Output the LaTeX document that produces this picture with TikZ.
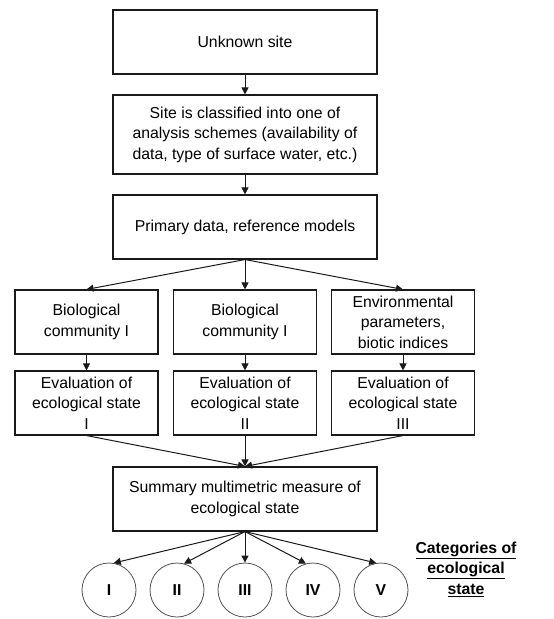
\documentclass[tikz,border=0pt]{standalone}
\usepackage{fontspec}
\setmainfont{Liberation Sans}
\usetikzlibrary{arrows.meta}
\definecolor{ink}{HTML}{1A1A1A}
\newcommand{\flowfont}{\fontsize{15.8}{20.5}\selectfont}
\tikzset{
  box/.style={draw=ink,line width=1.1pt,align=center,inner sep=0pt,
              minimum width=264pt,minimum height=64pt,font=\flowfont},
  smallbox/.style={box,minimum width=143pt},
  catnode/.style={draw=ink!75,circle,line width=0.8pt,minimum size=54pt,
                  inner sep=0pt,font=\flowfont\bfseries},
  arr/.style={-{Triangle[length=7pt,width=7pt]},line width=1pt,draw=ink}
}
\begin{document}
\begin{tikzpicture}[x=1pt,y=-1pt]
    \path[use as bounding box] (0,0) rectangle (554,619);
    \node[box] (unknown) at (245,42) {Unknown site};
    \node[box,minimum height=79pt] (classify) at (245,134.5)
      {Site is classified into one of\\analysis schemes (availability of\\
       data, type of surface water, etc.)};
    \node[box] (primary) at (245,227) {Primary data, reference models};
    \draw[arr] (unknown) -- (classify);
    \draw[arr] (classify) -- (primary);
    \foreach \n/\xx/\txt in {1/86.5/{Biological\\community I},
                             2/245/{Biological\\community I},
                             3/403/{Environmental\\parameters,\\biotic indices}}{
      \node[smallbox] (group\n) at (\xx,322) {\txt};
      \draw[arr] (primary.south) -- (group\n.north);
    }
    \node[box] (summary) at (245,499)
      {Summary multimetric measure of\\ecological state};
    \foreach \n/\xx/\r in {1/86.5/I,2/245/II,3/403/III}{
      \node[smallbox] (eval\n) at (\xx,403) {Evaluation of\\ecological state\\\r};
      \draw[arr] (group\n) -- (eval\n);
      \draw[arr] (eval\n.south) -- (summary.north);
    }
    \foreach \k/\r/\ang in {1/I/80,2/II/75,3/III/90,4/IV/105,5/V/100}{
      \node[catnode] (cat\k) at ({245+68*(\k-3)},590) {\r};
      \draw[arr] (summary.south) -- (cat\k.\ang);
    }
    \node[font=\flowfont\bfseries,align=center] (catlabel) at (466,569)
      {\underline{Categories of}\\\underline{ecological}\\\underline{state}};
  \end{tikzpicture}
\end{document}
